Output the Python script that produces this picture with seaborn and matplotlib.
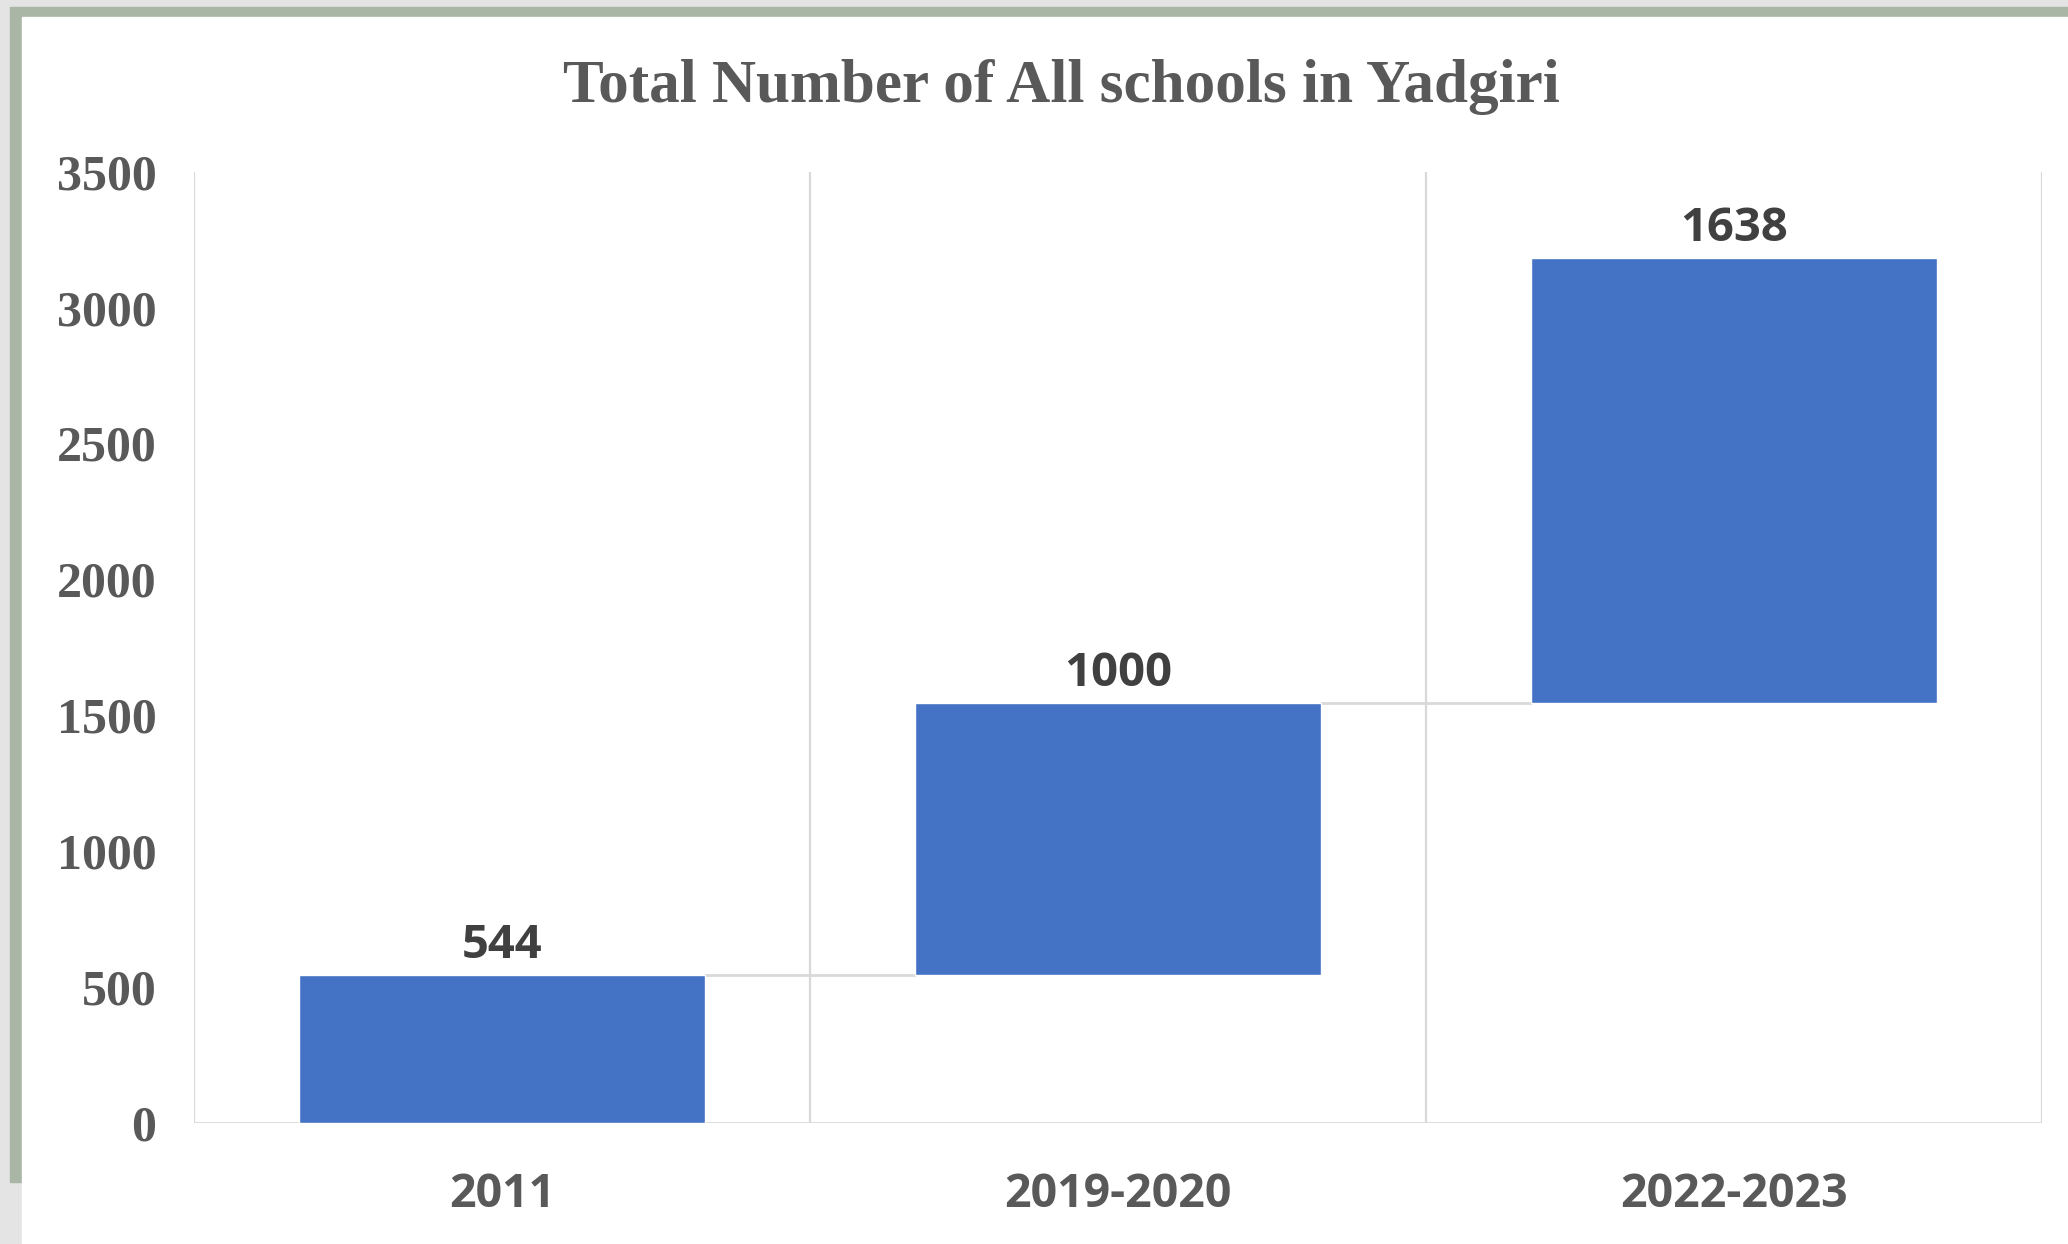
import matplotlib.pyplot as plt
import matplotlib.patches as mpatches
import seaborn as sns
import pandas as pd
import numpy as np

# dati del grafico a cascata
years = ["2011", "2019-2020", "2022-2023"]
increments = [544, 1000, 1638]
bases = [0, 544, 1544]
y_ticks = [0, 500, 1000, 1500, 2000, 2500, 3000, 3500]

df = pd.DataFrame({"year": years, "value": increments, "base": bases})
tops = df["base"] + df["value"]

sns.set_theme(style="white")
plt.rcParams["font.family"] = ["Liberation Serif", "DejaVu Serif"]

W, H = 2068, 1244
fig = plt.figure(figsize=(W / 100, H / 100), dpi=100)

# cornice esterna (sfondo grigio, bordo verde-grigio, pannello bianco)
def px_rect(x0, y0, x1, y1, color, z):
    fig.patches.append(mpatches.Rectangle((x0 / W, 1 - y1 / H), (x1 - x0) / W, (y1 - y0) / H,
                                          transform=fig.transFigure, color=color, zorder=z))

px_rect(0, 0, W, H, "#e4e4e4", -3)
px_rect(10, 7, W, 1182, "#a9b5a5", -2)
px_rect(22, 17, W, H, "white", -1)

ax = fig.add_axes([0.0938, 0.0976, 0.9874 - 0.0938, 0.862 - 0.0976])
ax.set_facecolor("none")
ax.set_zorder(5)

sns.barplot(data=df, x="year", y="value", bottom=df["base"], color="#4472C4",
            saturation=1, width=0.66, ax=ax, zorder=3)

# linee di collegamento tra le barre
half = 0.33
for i in range(len(years) - 1):
    ax.plot([i + half, i + 1 - half], [tops[i], tops[i]], color="#d9d9d9", lw=2, zorder=2)

# griglia verticale ai confini delle categorie
for xb in np.arange(-0.5, len(years), 1.0):
    ax.axvline(xb, color="#d9d9d9", lw=1.6, zorder=1)
ax.axhline(0, color="#d9d9d9", lw=2, zorder=1)

# etichette dei valori
for i, v in enumerate(increments):
    ax.annotate(str(v), (i, tops[i]), xytext=(0, 21), textcoords="offset points",
                ha="center", va="center", fontsize=34, fontweight="bold",
                color="#404040", family=["Open Sans", "DejaVu Sans"])

ax.set_xlim(-0.5, len(years) - 0.5)
ax.set_ylim(0, 3500)
ax.set_yticks(y_ticks)
ax.set_yticklabels([str(t) for t in y_ticks], fontsize=36, fontweight="bold", color="#595959")
ax.tick_params(axis="y", length=0, pad=27)
ax.tick_params(axis="x", length=0, pad=35)
for lab in ax.get_xticklabels():
    lab.set_fontfamily(["Open Sans", "DejaVu Sans"])
    lab.set_fontsize(33.5)
    lab.set_fontweight("bold")
    lab.set_color("#595959")
ax.set_xlabel("")
ax.set_ylabel("")
for s in ax.spines.values():
    s.set_visible(False)

fig.text(0.513, 0.930, "Total Number of All schools in Yadgiri", ha="center", va="center",
         fontsize=44, fontweight="bold", color="#595959")

fig.savefig("out.png", dpi=100)
